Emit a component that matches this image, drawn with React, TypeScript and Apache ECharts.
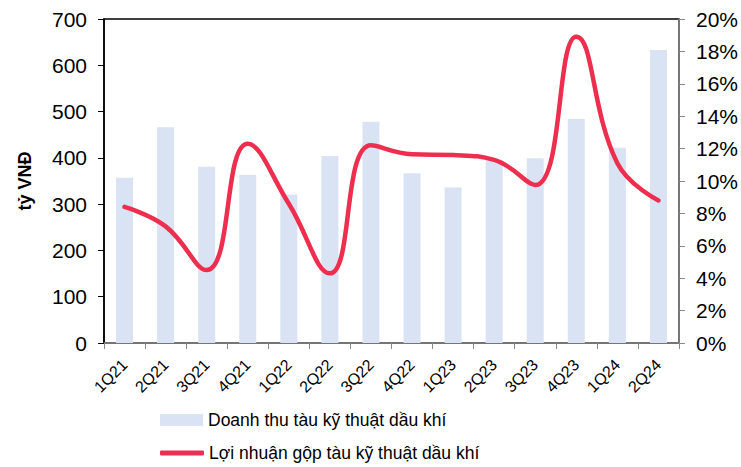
import React, { useEffect, useRef } from "react";
import * as echarts from "echarts";

const categories = ["1Q21", "2Q21", "3Q21", "4Q21", "1Q22", "2Q22", "3Q22", "4Q22", "1Q23", "2Q23", "3Q23", "4Q23", "1Q24", "2Q24"];
const revenue = [357, 466, 381, 363, 321, 404, 478, 367, 336, 395, 399, 484, 422, 633];
const grossMargin = [8.4, 7.2, 4.5, 12.3, 8.6, 4.3, 12.2, 11.65, 11.6, 11.3, 9.75, 18.9, 11.1, 8.8];
const leftTicks = { min: 0, max: 700, interval: 100 };
const rightTicks = { min: 0, max: 20, interval: 2 };
const barName = "Doanh thu tàu kỹ thuật dầu khí";
const lineName = "Lợi nhuận gộp tàu kỹ thuật dầu khí";

const FONT = "Liberation Sans, Arial, sans-serif";

export default function App() {
  const ref = useRef<HTMLDivElement>(null);
  useEffect(() => {
    const chart = echarts.init(ref.current!, undefined, { renderer: "svg" });
    const legendText = { fontSize: 17.5, color: "#000", fontFamily: FONT };
    chart.setOption({
      animation: false,
      textStyle: { fontFamily: FONT },
      grid: { left: 104, right: 61, top: 19, bottom: 124, show: true, borderColor: "#000", borderWidth: 1.5 },
      legend: [
        {
          left: 160,
          top: 411,
          padding: 0,
          itemGap: 4,
          itemWidth: 43,
          itemHeight: 12,
          textStyle: legendText,
          data: [{ name: barName, icon: "rect" }],
        },
        {
          left: 160,
          top: 444,
          padding: 0,
          itemWidth: 44,
          itemHeight: 5,
          textStyle: legendText,
          data: [{ name: lineName, icon: "roundRect" }],
        },
      ],
      xAxis: {
        type: "category",
        data: categories,
        axisLine: { lineStyle: { color: "#888", width: 1.5 } },
        axisTick: { show: true, length: 6, lineStyle: { color: "#888" } },
        axisLabel: { rotate: 45, fontSize: 16, color: "#000", margin: 19, interval: 0 },
      },
      yAxis: [
        {
          type: "value",
          ...leftTicks,
          name: "tỷ VNĐ",
          nameLocation: "middle",
          nameGap: 70,
          nameTextStyle: { fontSize: 18, fontWeight: "bold", color: "#000" },
          axisLine: { show: true, lineStyle: { color: "#000", width: 1.5 } },
          axisTick: { show: true, length: 6, lineStyle: { color: "#000" } },
          axisLabel: { fontSize: 21, color: "#000", margin: 17 },
          splitLine: { show: false },
        },
        {
          type: "value",
          ...rightTicks,
          position: "right",
          axisLine: { show: true, lineStyle: { color: "#888", width: 1.5 } },
          axisTick: { show: true, length: 6, lineStyle: { color: "#888" } },
          axisLabel: { fontSize: 21, color: "#000", margin: 17, formatter: "{value}%" },
          splitLine: { show: false },
        },
      ],
      series: [
        {
          name: barName,
          type: "bar",
          data: revenue,
          barWidth: 17,
          itemStyle: { color: "#dae3f3" },
        },
        {
          name: lineName,
          type: "line",
          yAxisIndex: 1,
          data: grossMargin,
          smooth: 0.45,
          symbol: "none",
          lineStyle: { color: "#ee2e4e", width: 4.5, cap: "round" },
          itemStyle: { color: "#ee2e4e" },
        },
      ],
    });
    return () => chart.dispose();
  }, []);
  return <div ref={ref} style={{ width: 741, height: 467, position: "absolute", left: 0, top: 0 }} />;
}
